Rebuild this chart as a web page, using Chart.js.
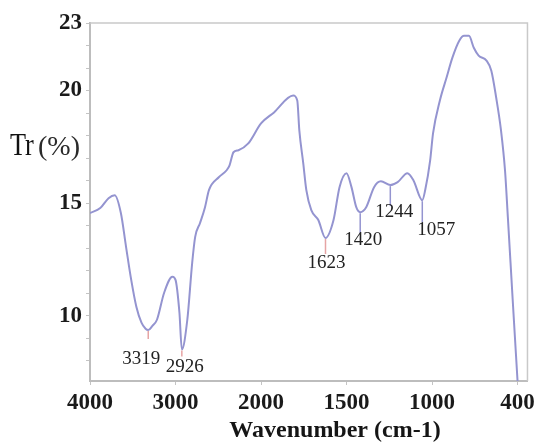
<!DOCTYPE html>
<html>
<head>
<meta charset="utf-8">
<script src="https://cdn.jsdelivr.net/npm/chart.js@4.4.1/dist/chart.umd.min.js"></script>
<style>
  html, body { margin: 0; padding: 0; background: #fff; }
  #wrap { width: 539px; height: 444px; }
</style>
</head>
<body>
<div id="wrap"><canvas id="myChart" width="539" height="444"></canvas></div>
<script>
// the x axis of the spectrum gives each interval between these labels the same width
const tickWavenumbers = [4000, 3000, 2000, 1500, 1000, 400];
const yTickLabels = [10, 15, 20, 23];

const wavenumbers = [
  4000, 3880, 3783, 3711, 3639, 3578, 3518, 3458, 3398, 3350, 3319, 3270, 3217, 3133, 3036, 3000,
  2954, 2926, 2862, 2805, 2770, 2713, 2655, 2609, 2494, 2402, 2368, 2322, 2264, 2149, 2000,
  1924, 1812, 1788, 1776, 1753, 1735, 1706, 1665, 1623, 1576, 1541, 1500,
  1471, 1443, 1420, 1385, 1339, 1299, 1244, 1201, 1144, 1109, 1057, 1040, 1011,
  993, 945, 898, 857, 809, 775, 741, 707, 673, 618, 584, 550, 516, 488, 468, 434, 400,
];
const transmittance = [
  14.56, 14.78, 15.22, 15.35, 14.56, 13.05, 11.59, 10.4, 9.69, 9.42, 9.36, 9.55, 9.82, 11.02, 11.73, 11.59,
  10.13, 8.5, 9.82, 12.35, 13.5, 14.12, 14.82, 15.58, 16.15, 16.46, 16.68, 17.26, 17.35, 17.65, 18.54,
  19.03, 19.78, 19.56, 18.23, 16.77, 15.58, 14.69, 14.25, 13.45, 14.25, 15.71, 16.33,
  15.71, 14.82, 14.6, 14.82, 15.71, 15.97, 15.8, 15.93, 16.33, 16.02, 15.13, 15.58, 16.9,
  18.1, 19.56, 20.58, 21.46, 22.21, 22.43, 22.43, 21.9, 21.55, 21.33, 20.88, 19.69, 18.23, 16.46, 14.38, 10.7, 7.1,
];

const peakWavenumbers = [3319, 2926, 1623, 1420, 1244, 1057];
const peakTransmittance = [9.36, 8.5, 13.45, 14.6, 15.8, 15.13];

const lineColor = '#9494d0';
const serif = "'Liberation Serif', 'Times New Roman', serif";

function toAxis(wn) {
  for (let i = 0; i < tickWavenumbers.length - 1; i++) {
    const a = tickWavenumbers[i];
    const b = tickWavenumbers[i + 1];
    if (wn <= a && wn >= b) {
      return i + (a - wn) / (a - b);
    }
  }
  return wn > tickWavenumbers[0] ? 0 : tickWavenumbers.length - 1;
}

const framePlugin = {
  id: 'frame',
  beforeDatasetsDraw(chart) {
    const { ctx, chartArea } = chart;
    ctx.save();
    ctx.strokeStyle = '#c9c9c9';
    ctx.lineWidth = 1.5;
    ctx.beginPath();
    ctx.moveTo(chartArea.left, chartArea.top);
    ctx.lineTo(chartArea.right, chartArea.top);
    ctx.lineTo(chartArea.right, chartArea.bottom);
    ctx.stroke();
    ctx.restore();
  },
};

// label offsets (dx, dy of text centre) and drop line lengths below each dip
const peakStyles = [
  { dx: -7, dy: 29, line: 8, color: '#e6a4a4' },
  { dx: 3, dy: 18, line: 6, color: '#e6a4a4' },
  { dx: 1, dy: 25, line: 15, color: '#e6a4a4' },
  { dx: 3, dy: 28, line: 20, color: lineColor },
  { dx: 4, dy: 27, line: 20, color: lineColor },
  { dx: 14, dy: 30, line: 21, color: lineColor },
];

const peakPlugin = {
  id: 'peaks',
  afterDatasetsDraw(chart) {
    const { ctx, scales } = chart;
    ctx.save();
    peakWavenumbers.forEach((wn, i) => {
      const st = peakStyles[i];
      const px = scales.x.getPixelForValue(toAxis(wn));
      const py = scales.y.getPixelForValue(peakTransmittance[i]);
      ctx.strokeStyle = st.color;
      ctx.lineWidth = 1.5;
      ctx.beginPath();
      ctx.moveTo(px, py + 1);
      ctx.lineTo(px, py + 1 + st.line);
      ctx.stroke();
      ctx.fillStyle = '#222';
      ctx.font = '19px ' + serif;
      ctx.textAlign = 'center';
      ctx.textBaseline = 'middle';
      ctx.fillText(String(wn), px + st.dx, py + st.dy);
    });
    ctx.restore();
  },
};

const titlesPlugin = {
  id: 'titles',
  afterDraw(chart) {
    const { ctx } = chart;
    ctx.save();
    ctx.textBaseline = 'alphabetic';
    ctx.textAlign = 'left';
    ctx.fillStyle = '#111';
    ctx.save();
    ctx.translate(10, 155);
    ctx.scale(0.82, 1);
    ctx.font = '32px ' + serif;
    ctx.fillText('Tr', 0, 0);
    ctx.restore();
    ctx.fillStyle = '#2a2a2a';
    ctx.font = '28px ' + serif;
    ctx.fillText('(%)', 38, 155);

    ctx.fillStyle = '#151515';
    ctx.font = 'bold 24px ' + serif;
    ctx.textAlign = 'center';
    ctx.textBaseline = 'middle';
    ctx.fillText('Wavenumber (cm-1)', 335, 431);
    ctx.restore();
  },
};

const ctx = document.getElementById('myChart').getContext('2d');
const myChart = new Chart(ctx, {
  type: 'line',
  data: {
    datasets: [
      {
        data: wavenumbers.map((wn, i) => ({ x: toAxis(wn), y: transmittance[i] })),
        borderColor: lineColor,
        borderWidth: 2,
        pointRadius: 0,
        cubicInterpolationMode: 'monotone',
        fill: false,
      },
    ],
  },
  options: {
    responsive: false,
    animation: false,
    layout: {
      padding: { top: 23, right: 9, left: 0, bottom: 0 },
    },
    plugins: {
      legend: { display: false },
      tooltip: { enabled: false },
    },
    scales: {
      x: {
        type: 'linear',
        min: 0,
        max: 5.116,
        afterBuildTicks: (scale) => {
          scale.ticks = tickWavenumbers.map((wn, i) => ({ value: i }));
        },
        afterFit: (scale) => {
          scale.height = 63;
        },
        ticks: {
          callback: (value) => tickWavenumbers[value],
          autoSkip: false,
          maxRotation: 0,
          padding: 4,
          color: '#1a1a1a',
          font: { family: serif, size: 23, weight: 'bold' },
        },
        grid: { drawOnChartArea: false, tickLength: 4, color: '#c4c4c4' },
        border: { color: '#bdbdbd', width: 2 },
      },
      y: {
        min: 7.1,
        max: 23,
        afterBuildTicks: (scale) => {
          const ticks = [];
          for (let v = 8; v <= 23; v++) {
            ticks.push({ value: v });
          }
          scale.ticks = ticks;
        },
        afterFit: (scale) => {
          scale.width = 90;
        },
        ticks: {
          callback: (value) => (yTickLabels.includes(value) ? String(value) : ''),
          autoSkip: false,
          padding: 4,
          color: '#1a1a1a',
          font: { family: serif, size: 23, weight: 'bold' },
        },
        grid: { drawOnChartArea: false, tickLength: 4, color: '#c4c4c4' },
        border: { color: '#bdbdbd', width: 2 },
      },
    },
  },
  plugins: [framePlugin, peakPlugin, titlesPlugin],
});
</script>
</body>
</html>
